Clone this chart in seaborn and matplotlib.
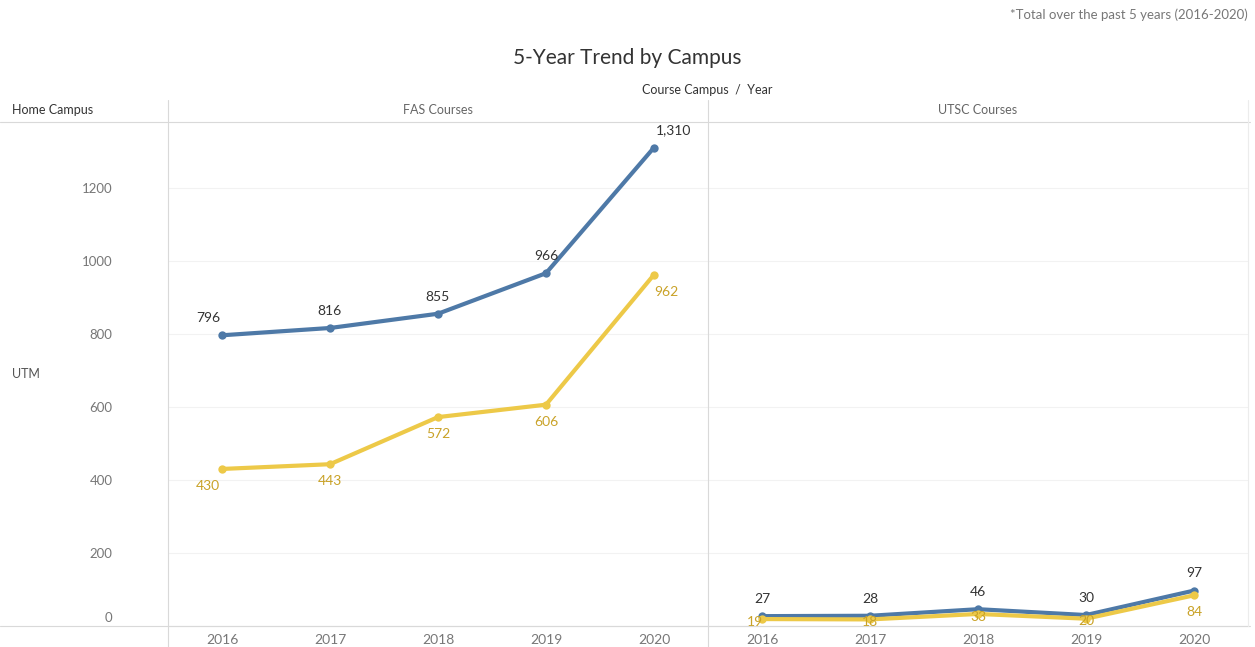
import pandas as pd
import matplotlib.pyplot as plt
import matplotlib.transforms as mtransforms
import seaborn as sns

# values
years = ["2016", "2017", "2018", "2019", "2020"]
campuses = ["FAS Courses", "UTSC Courses"]
fas_blue = [796, 816, 855, 966, 1310]
fas_yellow = [430, 443, 572, 606, 962]
utsc_blue = [27, 28, 46, 30, 97]
utsc_yellow = [19, 18, 33, 20, 84]
yticks = [0, 200, 400, 600, 800, 1000, 1200]

BLUE = "#4e79a7"
YELLOW = "#edc948"
GREY = "#777777"

rows = []
for camp, b, y in [("FAS Courses", fas_blue, fas_yellow), ("UTSC Courses", utsc_blue, utsc_yellow)]:
    for i, yr in enumerate(years):
        rows.append({"campus": camp, "year": yr, "series": "A", "value": b[i]})
        rows.append({"campus": camp, "year": yr, "series": "B", "value": y[i]})
df = pd.DataFrame(rows)

sns.set_style("white")
plt.rcParams["font.family"] = ["Lato", "DejaVu Sans"]

W, H = 1255, 647
fig = plt.figure(figsize=(W / 100, H / 100), dpi=100)

def px_axes(x0, y0, x1, y1):
    # pixel box (top-left origin) -> figure fraction
    return fig.add_axes([x0 / W, 1 - y1 / H, (x1 - x0) / W, (y1 - y0) / H])

panels = [(168, 708), (708, 1248)]
top, bottom = 122, 626

for k, camp in enumerate(campuses):
    x0, x1 = panels[k]
    ax = px_axes(x0, top, x1, bottom)
    sub = df[df["campus"] == camp]
    sns.lineplot(data=sub, x="year", y="value", hue="series", palette=[BLUE, YELLOW],
                 hue_order=["A", "B"], marker="o", markersize=6, markeredgewidth=0,
                 linewidth=3, sort=False, legend=False, ax=ax)
    ax.set_ylim(0, 1380)
    ax.set_xlim(-0.5, 4.5)
    ax.set_xlabel("")
    ax.set_ylabel("")
    ax.set_yticks(yticks)
    for yv in yticks[1:]:
        ax.axhline(yv, color="#f2f2f2", lw=0.8, zorder=0)
    for s in ["top", "right", "left"]:
        ax.spines[s].set_visible(False)
    ax.spines["bottom"].set_color("#d0d0d0")
    ax.tick_params(axis="x", length=0, labelsize=10, labelcolor=GREY, pad=6)
    if k == 0:
        ax.tick_params(axis="y", length=0, labelsize=9.5, labelcolor=GREY, pad=40)
        zero = ax.get_yticklabels()[0]
        zero.set_transform(zero.get_transform() + mtransforms.ScaledTranslation(0, 9 / 100, fig.dpi_scale_trans))
    else:
        ax.set_yticklabels([])
        ax.tick_params(axis="y", length=0)

    b = sub[sub["series"] == "A"]["value"].tolist()
    y = sub[sub["series"] == "B"]["value"].tolist()
    for i in range(len(years)):
        dx, ha = (0, "center")
        if k == 0 and i == 0:
            dx = -10
        if k == 0 and i == 4:
            dx, ha = (1, "left")
        ax.annotate(f"{b[i]:,}", (i, b[i]), xytext=(dx, 8), textcoords="offset points",
                    ha=ha, va="bottom", fontsize=10, color="#333333")
        ydx, yha, ydy, yva = (0, "center", -8, "top")
        if k == 0 and i == 0:
            ydx = -10
        if k == 0 and i == 4:
            ydx, yha = (0, "left")
        if k == 1 and i < 4:
            ydx, ydy, yva = (-5 if i == 0 else 0), -2, "center"
        ax.annotate(f"{y[i]:,}", (i, y[i]), xytext=(ydx, ydy), textcoords="offset points",
                    ha=yha, va=yva, fontsize=10, color="#c9a227")

# header / frame lines
line_ax = fig.add_axes([0, 0, 1, 1], facecolor="none")
line_ax.set_xlim(0, W)
line_ax.set_ylim(H, 0)
line_ax.axis("off")
line_ax.plot([0, 1250], [122, 122], color="#d9d9d9", lw=0.8)
line_ax.plot([0, 1250], [626, 626], color="#d9d9d9", lw=0.8)
for xv in [168, 708]:
    line_ax.plot([xv, xv], [100, H], color="#d9d9d9", lw=0.8)
line_ax.plot([1248, 1248], [100, 626], color="#ececec", lw=0.8)

fig.text(12 / W, 1 - 110 / H, "Home Campus", fontsize=9, color="#333333", va="center")
fig.text(438 / W, 1 - 110 / H, "FAS Courses", fontsize=9, color="#666666", va="center", ha="center")
fig.text(978 / W, 1 - 110 / H, "UTSC Courses", fontsize=9, color="#666666", va="center", ha="center")
fig.text(12 / W, 1 - 374 / H, "UTM", fontsize=9, color="#555555", va="center")
fig.text(707 / W, 1 - 90 / H, "Course Campus  /  Year", fontsize=9, color="#333333", va="center", ha="center")
fig.text(627 / W, 1 - 58 / H, "5-Year Trend by Campus", fontsize=15, color="#333333", va="center", ha="center")
fig.text(1248 / W, 1 - 15 / H, "*Total over the past 5 years (2016-2020)", fontsize=9.5, color="#777777",
         va="center", ha="right")

fig.savefig("out.png", dpi=100)
